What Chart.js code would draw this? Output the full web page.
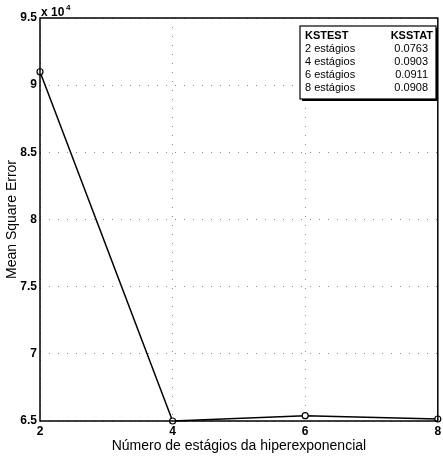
<!DOCTYPE html>
<html>
<head>
<meta charset="utf-8">
<script src="https://cdn.jsdelivr.net/npm/chart.js@4/dist/chart.umd.min.js"></script>
<style>
  html, body { margin: 0; padding: 0; background: #fff; }
  #wrap { width: 443px; height: 459px; }
</style>
</head>
<body>
<div id="wrap"><canvas id="c" width="443" height="459"></canvas></div>
<script>
// dados (MSE em unidades de 10^4)
const stages = [2, 4, 6, 8];
const mse = [9.1, 6.5, 6.54, 6.515];
const yTicks = [6.5, 7, 7.5, 8, 8.5, 9, 9.5];
const xTicks = [2, 4, 6, 8];

// tabela KSTEST / KSSTAT
const ksHeader = ["KSTEST", "KSSTAT"];
const ksLabels = ["2 estágios", "4 estágios", "6 estágios", "8 estágios"];
const ksValues = ["0.0763", "0.0903", "0.0911", "0.0908"];

const FONT = "'Liberation Sans', Arial, sans-serif";

// moldura preta + expoente + tabela
const framePlugin = {
    id: "frame",
    afterDraw(chart) {
        const ctx = chart.ctx;
        const a = chart.chartArea;
        ctx.save();
        ctx.strokeStyle = "#000";
        ctx.lineWidth = 1.5;
        ctx.strokeRect(a.left, a.top, a.right - a.left, a.bottom - a.top);

        // x 10^4
        ctx.fillStyle = "#000";
        ctx.font = "bold 12px " + FONT;
        ctx.textBaseline = "alphabetic";
        ctx.textAlign = "left";
        ctx.fillText("x 10", a.left + 1, a.top - 2);
        ctx.font = "bold 8px " + FONT;
        ctx.fillText("4", a.left + 26, a.top - 8);

        // tabela
        const bx = 300, by = 26, bw = 136, bh = 73;
        ctx.fillStyle = "#000";
        ctx.fillRect(bx + 2, by + 2, bw, bh);
        ctx.fillStyle = "#fff";
        ctx.fillRect(bx, by, bw, bh);
        ctx.lineWidth = 1.2;
        ctx.strokeRect(bx, by, bw, bh);

        ctx.fillStyle = "#000";
        ctx.font = "bold 11px " + FONT;
        ctx.textAlign = "left";
        ctx.fillText(ksHeader[0], bx + 5, by + 13);
        ctx.textAlign = "right";
        ctx.fillText(ksHeader[1], bx + bw - 3, by + 13);
        ctx.font = "11px " + FONT;
        ksLabels.forEach((s, i) => {
            const y = by + 26 + i * 13;
            ctx.textAlign = "left";
            ctx.fillText(s, bx + 5, y);
            ctx.textAlign = "right";
            ctx.fillText(ksValues[i], bx + bw - 8, y);
        });
        ctx.restore();
    }
};

new Chart(document.getElementById("c"), {
    type: "line",
    data: {
        datasets: [{
            data: stages.map((x, i) => ({ x: x, y: mse[i] })),
            borderColor: "#000",
            borderWidth: 1.5,
            pointRadius: 3,
            pointBackgroundColor: "#fff",
            pointBorderColor: "#000",
            pointBorderWidth: 1.2,
            tension: 0,
            fill: false,
            clip: false
        }]
    },
    options: {
        responsive: false,
        animation: false,
        layout: { padding: { top: 18, right: 0, left: 0, bottom: 0 } },
        plugins: {
            legend: { display: false },
            tooltip: { enabled: false }
        },
        scales: {
            x: {
                type: "linear",
                min: 2,
                max: 8,
                afterBuildTicks: s => { s.ticks = xTicks.map(v => ({ value: v })); },
                afterFit: s => { s.height = 38; s.paddingLeft = 0; s.paddingRight = 0; },
                grid: { color: "#888", lineWidth: 1, drawTicks: false },
                border: { display: false, dash: [1, 8] },
                ticks: {
                    color: "#000",
                    padding: 3,
                    font: { family: FONT, size: 12, weight: "bold" },
                    maxRotation: 0
                },
                title: {
                    display: true,
                    text: "Número de estágios da hiperexponencial",
                    color: "#000",
                    font: { family: FONT, size: 14 },
                    padding: { top: 0 }
                }
            },
            y: {
                min: 6.5,
                max: 9.5,
                afterBuildTicks: s => { s.ticks = yTicks.map(v => ({ value: v })); },
                afterFit: s => { s.width = 40; s.paddingTop = 0; s.paddingBottom = 0; },
                grid: { color: "#888", lineWidth: 1, drawTicks: false },
                border: { display: false, dash: [1, 8] },
                ticks: {
                    color: "#000",
                    padding: 3,
                    font: { family: FONT, size: 12, weight: "bold" },
                    callback: v => String(v)
                },
                title: {
                    display: true,
                    text: "Mean Square Error",
                    color: "#000",
                    font: { family: FONT, size: 14 },
                    padding: { bottom: 0 }
                }
            }
        }
    },
    plugins: [framePlugin]
});
</script>
</body>
</html>
